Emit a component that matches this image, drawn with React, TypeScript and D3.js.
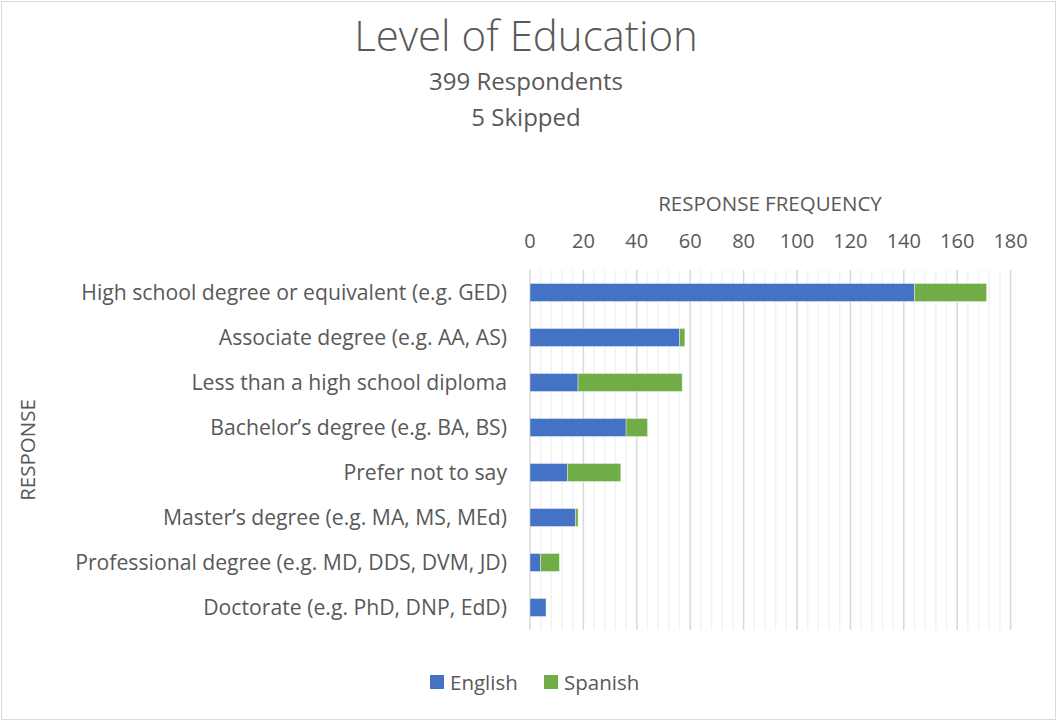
import React from 'react';
import * as d3 from 'd3';

const categories = [
  'High school degree or equivalent (e.g. GED)',
  'Associate degree (e.g. AA, AS)',
  'Less than a high school diploma',
  'Bachelor\u2019s degree (e.g. BA, BS)',
  'Prefer not to say',
  'Master\u2019s degree (e.g. MA, MS, MEd)',
  'Professional degree (e.g. MD, DDS, DVM, JD)',
  'Doctorate (e.g. PhD, DNP, EdD)',
];
const english = [144, 56, 18, 36, 14, 17, 4, 6];
const spanish = [27, 2, 39, 8, 20, 1, 7, 0];
const seriesNames = ['English', 'Spanish'];
const colors = ['#4472C4', '#70AD47'];
const majorTicks = [0, 20, 40, 60, 80, 100, 120, 140, 160, 180];

const W = 1057;
const H = 721;
const FONT = '"Open Sans", "DejaVu Sans", sans-serif';
const TXT = '#595959';

const App = () => {
  const x = d3.scaleLinear().domain([0, 180]).range([530, 1010.6]);
  const y = d3.scaleBand().domain(categories).range([270, 630]).paddingInner(0.6).paddingOuter(0.3);

  const rows = categories.map((c, i) => ({ cat: c, English: english[i], Spanish: spanish[i] }));
  const stacked = d3.stack().keys(seriesNames)(rows as any);
  const minor = d3.range(0, 181, 4).filter(v => v % 20 !== 0);

  return (
    <svg width={W} height={H} style={{ position: 'absolute', left: 0, top: 0, background: '#fff' }}
      fontFamily={FONT}>
      <rect x={1.5} y={1.5} width={W - 3} height={H - 3} fill='#fff' stroke='#d9d9d9' strokeWidth={1}/>

      <text x={526} y={51} textAnchor='middle' fontSize={42} fill={TXT} fontWeight={300}>Level of Education</text>
      <text x={526} y={90} textAnchor='middle' fontSize={24} fill={TXT}>399 Respondents</text>
      <text x={526} y={126} textAnchor='middle' fontSize={24} fill={TXT}>5 Skipped</text>

      {/* gridlines */}
      {minor.map(v => (
        <line key={'m' + v} x1={x(v)} x2={x(v)} y1={270} y2={630} stroke='#f2f2f2' strokeWidth={1.5}/>
      ))}
      {majorTicks.map(v => (
        <line key={'M' + v} x1={x(v)} x2={x(v)} y1={270} y2={630} stroke='#d9d9d9' strokeWidth={1.5}/>
      ))}

      {/* axis title and tick labels on top */}
      <text x={770} y={211} textAnchor='middle' fontSize={20.5} fill={TXT}>RESPONSE FREQUENCY</text>
      {majorTicks.map(v => (
        <text key={'t' + v} x={x(v)} y={248} textAnchor='middle' fontSize={20} fill={TXT}>{v}</text>
      ))}

      {/* bars */}
      {stacked.map((s, si) => (
        <g key={s.key}>
          {s.map((d, i) => d[1] - d[0] > 0 && (
            <rect key={i}
              x={x(d[0])}
              y={y(categories[i])}
              width={x(d[1]) - x(d[0])}
              height={y.bandwidth()}
              fill={colors[si]}
              stroke='#ffffff' strokeOpacity={0.5} strokeWidth={0.75}/>
          ))}
        </g>
      ))}

      {/* category labels */}
      {categories.map(c => (
        <text key={c} x={507} y={(y(c) as number) + y.bandwidth() / 2} dy='0.35em'
          textAnchor='end' fontSize={21.2} fill={TXT}>{c}</text>
      ))}

      <text transform={`translate(35,450) rotate(-90)`} textAnchor='middle' fontSize={20.5} fill={TXT}>RESPONSE</text>

      {/* legend */}
      {seriesNames.map((n, i) => {
        const lx = i === 0 ? 430 : 544;
        return (
          <g key={n}>
            <rect x={lx} y={675} width={14} height={14} fill={colors[i]}/>
            <text x={lx + 20} y={690} fontSize={20.5} fill={TXT}>{n}</text>
          </g>
        );
      })}
    </svg>
  );
};

export default App;
